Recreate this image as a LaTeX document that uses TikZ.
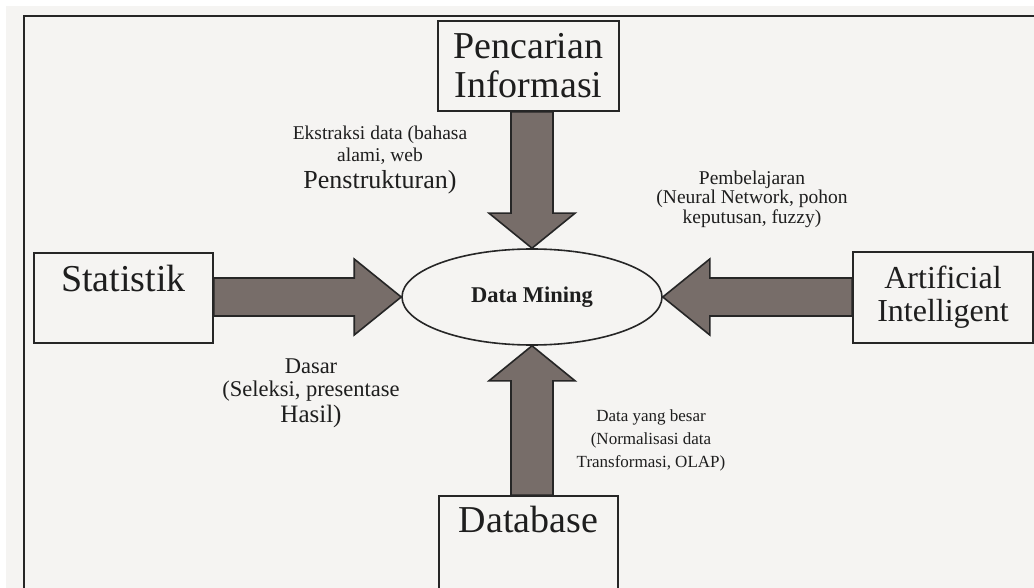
\documentclass[tikz,border=0pt]{standalone}
\usepackage{fontspec}
\setmainfont{Liberation Serif}
\usetikzlibrary{calc,math,shapes.geometric}
\definecolor{mybg}{RGB}{245,244,242}
\definecolor{mygray}{RGB}{119,109,105}
\definecolor{myline}{RGB}{38,38,38}
\definecolor{mytext}{RGB}{30,30,30}
\tikzset{
  kotak/.style={draw=myline, line width=1.6, fill=mybg, text=mytext, align=center, inner sep=0pt},
  panah/.style={draw=myline, line width=1.6, fill=mygray, line join=miter},
  ket/.style={text=mytext, align=center, inner sep=0pt},
}

\begin{document}
\begin{tikzpicture}[x=1pt,y=-1pt]
\tikzmath{
\sw=21; \hw=43; \hl=35;
\sh=19; \hh=38; \hlen=47;
}
\clip (0,0) rectangle (1034,588);
\fill[white] (0,0) rectangle (1034,588);
\fill[mybg] (6,6) rectangle (1034,588);
\draw[myline, line width=2.4] (24,590) -- (24,16) -- (1040,16);

\node[draw=myline, line width=1.6, ellipse, fill=mybg, minimum width=260, minimum height=96, text=mytext,
  font=\fontsize{22.5}{24}\selectfont\bfseries] (dm) at (532,297) {Data Mining};

\node[kotak, minimum width=181, minimum height=90, font=\fontsize{38}{39}\selectfont] (info) at (528.5,66) {Pencarian\\Informasi};
\node[kotak, minimum width=179, minimum height=90, font=\fontsize{38}{40}\selectfont] (stat) at (123.5,298) {Statistik\\\mbox{}};
\node[kotak, minimum width=180, minimum height=91, font=\fontsize{32}{33}\selectfont] (ai) at (943,297.5) {Artificial\\Intelligent};
\node[kotak, minimum width=179, minimum height=96, font=\fontsize{38}{40}\selectfont] (db) at (528.5,544) {Database\\[10pt]\mbox{}};

% atas
\coordinate (t0) at (info.south -| dm.north);
\draw[panah] ($(t0)+(-\sw,0)$) -- ($(dm.north)+(-\sw,-\hl)$) -- ($(dm.north)+(-\hw,-\hl)$) -- (dm.north)
  -- ($(dm.north)+(\hw,-\hl)$) -- ($(dm.north)+(\sw,-\hl)$) -- ($(t0)+(\sw,0)$) -- cycle;
% bawah
\coordinate (b0) at (db.north -| dm.south);
\draw[panah] ($(b0)+(-\sw,0)$) -- ($(dm.south)+(-\sw,\hl)$) -- ($(dm.south)+(-\hw,\hl)$) -- (dm.south)
  -- ($(dm.south)+(\hw,\hl)$) -- ($(dm.south)+(\sw,\hl)$) -- ($(b0)+(\sw,0)$) -- cycle;
% kiri
\coordinate (l0) at (stat.east |- dm.west);
\draw[panah] ($(l0)+(0,-\sh)$) -- ($(dm.west)+(-\hlen,-\sh)$) -- ($(dm.west)+(-\hlen,-\hh)$) -- (dm.west)
  -- ($(dm.west)+(-\hlen,\hh)$) -- ($(dm.west)+(-\hlen,\sh)$) -- ($(l0)+(0,\sh)$) -- cycle;
% kanan
\coordinate (r0) at (ai.west |- dm.east);
\draw[panah] ($(r0)+(0,-\sh)$) -- ($(dm.east)+(\hlen,-\sh)$) -- ($(dm.east)+(\hlen,-\hh)$) -- (dm.east)
  -- ($(dm.east)+(\hlen,\hh)$) -- ($(dm.east)+(\hlen,\sh)$) -- ($(r0)+(0,\sh)$) -- cycle;

\node[ket, font=\fontsize{19.5}{22.5}\selectfont] (ekstraksi) at (380,160)
  {Ekstraksi data (bahasa\\alami, web\\[4pt]{\fontsize{26}{23}\selectfont Penstrukturan)}};
\node[ket, font=\fontsize{19.5}{19.5}\selectfont] (belajar) at (752,199)
  {Pembelajaran\\(Neural Network, pohon\\keputusan, fuzzy)};
\node[ket, font=\fontsize{22.5}{23.5}\selectfont] (dasar) at (311,393)
  {Dasar\\(Seleksi, presentase\\[2pt]{\fontsize{25}{23.5}\selectfont Hasil)}};
\node[ket, font=\fontsize{17}{23}\selectfont] (besar) at (651,440)
  {Data yang besar\\(Normalisasi data\\Transformasi, OLAP)};
\end{tikzpicture}
\end{document}
